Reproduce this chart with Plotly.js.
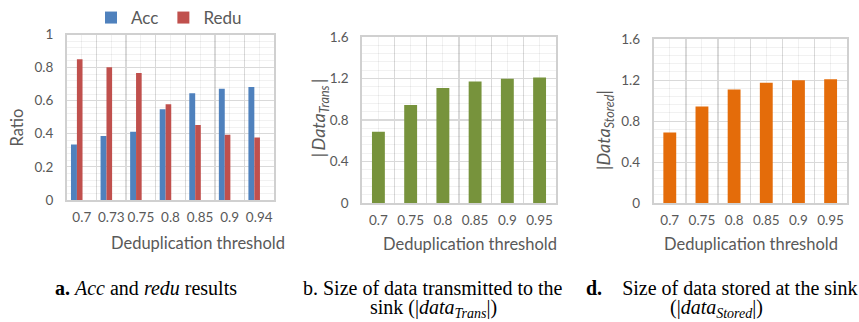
<!DOCTYPE html>
<html>
<head>
<meta charset="utf-8">
<script src="https://cdn.plot.ly/plotly-3.0.1.min.js"></script>
<style>html,body{margin:0;padding:0;background:#fff;}#chart{width:859px;height:322px;}</style>
</head>
<body>
<div id="chart"></div>
<script>
// ---- data ----
const thresholdsA = ['0.7', '0.73', '0.75', '0.8', '0.85', '0.9', '0.94'];
const accValues   = [0.335, 0.386, 0.412, 0.548, 0.645, 0.672, 0.682];
const reduValues  = [0.851, 0.802, 0.768, 0.579, 0.453, 0.394, 0.378];

const thresholdsB = ['0.7', '0.75', '0.8', '0.85', '0.9', '0.95'];
const transValues  = [0.688, 0.943, 1.108, 1.171, 1.196, 1.209];
const storedValues = [0.690, 0.944, 1.110, 1.174, 1.200, 1.210];

const ratioTicks = [0, 0.2, 0.4, 0.6, 0.8, 1];
const sizeTicks  = [0, 0.4, 0.8, 1.2, 1.6];

// ---- style ----
const W = 859, H = 322;
const SANS = 'Lato';
const SERIF = 'Liberation Serif';
const GREY = '#595959';
const C_ACC = '#4f81bd', C_REDU = '#c0504d', C_TRANS = '#77933c', C_STORED = '#e46c0a';
const LIGHT = 'rgba(0,0,0,0.055)';
const MID = '#d9d9d9';

const idx = arr => arr.map((_, i) => i);
const px = v => v / W;
const py = v => 1 - v / H;

const traces = [
  {type: 'bar', name: 'Acc', x: idx(thresholdsA), y: accValues, xaxis: 'x', yaxis: 'y',
   marker: {color: C_ACC}, width: 0.2, offset: -0.365, hoverinfo: 'y'},
  {type: 'bar', name: 'Redu', x: idx(thresholdsA), y: reduValues, xaxis: 'x', yaxis: 'y',
   marker: {color: C_REDU}, width: 0.19, offset: -0.165, hoverinfo: 'y'},
  {type: 'bar', name: 'Trans', x: idx(thresholdsB), y: transValues, xaxis: 'x2', yaxis: 'y2',
   marker: {color: C_TRANS}, width: 0.4, showlegend: false, hoverinfo: 'y'},
  {type: 'bar', name: 'Stored', x: idx(thresholdsB), y: storedValues, xaxis: 'x3', yaxis: 'y3',
   marker: {color: C_STORED}, width: 0.4, showlegend: false, hoverinfo: 'y'}
];

function xAxis(cats, domain, anchor) {
  return {
    domain: domain, anchor: anchor, range: [-0.5, cats.length - 0.5],
    tickmode: 'array', tickvals: idx(cats), ticktext: cats,
    showgrid: true, gridcolor: LIGHT, gridwidth: 1,
    minor: {tickmode: 'linear', tick0: -0.5, dtick: 1, showgrid: true, gridcolor: MID, gridwidth: 1.3},
    showline: true, mirror: true, linecolor: '#d0d0d0', linewidth: 2,
    ticks: '', zeroline: false, fixedrange: true,
    ticklabelstandoff: 4,
    tickfont: {family: SANS, size: 13.5, color: GREY}
  };
}
function yAxis(ticks, minorStep, domain, anchor) {
  return {
    domain: domain, anchor: anchor, range: [ticks[0], ticks[ticks.length - 1]],
    tickmode: 'array', tickvals: ticks,
    showgrid: true, gridcolor: MID, gridwidth: 1.3,
    minor: {tickmode: 'linear', tick0: 0, dtick: minorStep, showgrid: true, gridcolor: LIGHT, gridwidth: 1},
    showline: true, mirror: true, linecolor: '#d0d0d0', linewidth: 2,
    ticks: '', zeroline: false, fixedrange: true,
    ticklabelstandoff: 9,
    tickfont: {family: SANS, size: 13.5, color: GREY}
  };
}

const ann = (text, x, y, opts) => Object.assign({
  text: text, x: px(x), y: py(y), xref: 'paper', yref: 'paper',
  xanchor: 'center', yanchor: 'middle', showarrow: false,
  font: {family: SANS, size: 16.5, color: GREY}
}, opts || {});
const capFont = {family: SERIF, size: 20, color: '#000000'};
const ytFont = {family: SANS, size: 18, color: GREY};

const NB = '\u00a0';
const layout = {
  width: W, height: H,
  margin: {l: 0, r: 0, t: 0, b: 0},
  font: {family: SANS, color: GREY},
  paper_bgcolor: '#ffffff', plot_bgcolor: '#ffffff',
  bargap: 0.6,
  showlegend: true,
  legend: {orientation: 'h', x: px(91), y: py(13), xanchor: 'left', yanchor: 'middle',
           font: {family: SANS, size: 17, color: GREY}, itemwidth: 30, tracegroupgap: 0,
           bgcolor: 'rgba(0,0,0,0)'},
  xaxis:  xAxis(thresholdsA, [px(67), px(274)], 'y'),
  yaxis:  yAxis(ratioTicks, 0.04, [py(198), py(30)], 'x'),
  xaxis2: xAxis(thresholdsB, [px(362.3), px(555.7)], 'y2'),
  yaxis2: yAxis(sizeTicks, 0.08, [py(201.3), py(32.3)], 'x2'),
  xaxis3: xAxis(thresholdsB, [px(653.7), px(846.7)], 'y3'),
  yaxis3: yAxis(sizeTicks, 0.08, [py(201.3), py(34.7)], 'x3'),
  annotations: [
    // axis titles
    ann('Deduplication threshold', 198, 242),
    ann('Deduplication threshold', 469.7, 243),
    ann('Deduplication threshold', 750.7, 243),
    ann('Ratio', 17.5, 125, {textangle: -90}),
    ann('|\u2009<i>Data</i><sub><i>Trans</i></sub>\u2009|', 319, 115, {textangle: -90, font: ytFont}),
    ann('|<i>Data</i><sub><i>Stored</i></sub>|', 604, 127, {textangle: -90, font: ytFont}),
    // captions
    ann('<b>a.</b> <i>Acc</i> and <i>redu</i> results', 145.5, 287, {font: capFont}),
    ann('b. Size of data transmitted to the', 432.5, 287, {font: capFont}),
    ann('sink (|<i>data</i><sub><i>Trans</i></sub>|)', 433, 308, {font: capFont}),
    ann('<b>d.</b>' + NB + NB + NB + NB + 'Size of data stored at the sink', 722, 287, {font: capFont}),
    ann('(|<i>data</i><sub><i>Stored</i></sub>|)', 716, 308, {font: capFont})
  ]
};

Plotly.newPlot('chart', traces, layout, {displayModeBar: false, staticPlot: true});
</script>
</body>
</html>
